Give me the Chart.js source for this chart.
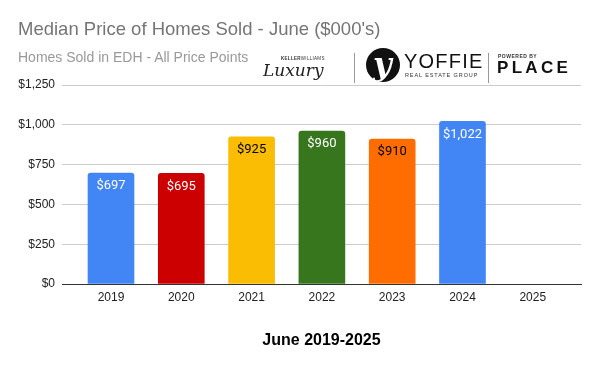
<!DOCTYPE html>
<html><head><meta charset="utf-8">
<script src="https://cdn.jsdelivr.net/npm/chart.js@4"></script>
<style>
html,body{margin:0;padding:0;background:#fff;}
#wrap{position:relative;width:600px;height:371px;overflow:hidden;font-family:Arial,"Liberation Sans",sans-serif;}
canvas{position:absolute;left:0;top:0;}
.t{position:absolute;white-space:nowrap;}
</style></head><body>
<div id="wrap">
<canvas id="c" width="600" height="371"></canvas>
<div class="t" style="left:18px;top:18px;font-size:18.5px;color:#757575;">Median Price of Homes Sold - June ($000's)</div>
<div class="t" style="left:18px;top:49px;font-size:14px;color:#999;">Homes Sold in EDH - All Price Points</div>
<!-- logo -->
<div class="t" style="left:281px;top:56px;font-size:4.5px;font-weight:bold;letter-spacing:0.3px;color:#333;">KELLER<span style="font-weight:normal">WILLIAMS</span></div>
<div class="t" style="left:263px;top:60px;font-size:17px;font-family:'DejaVu Serif',serif;font-style:italic;color:#222;letter-spacing:0px;">Luxury</div>
<div style="position:absolute;left:354px;top:53px;width:1px;height:30px;background:#999;"></div>
<div style="position:absolute;left:366px;top:48px;width:34px;height:34px;border-radius:50%;background:#111;"></div>
<div class="t" style="left:373px;top:45px;font-size:32px;font-family:'DejaVu Serif',serif;font-style:italic;font-weight:bold;color:#fff;">y</div>
<div class="t" style="left:404px;top:50px;font-size:20px;color:#111;letter-spacing:1.2px;">YOFFIE</div>
<div class="t" style="left:405px;top:72px;font-size:5.5px;color:#333;letter-spacing:0.9px;">REAL ESTATE GROUP</div>
<div style="position:absolute;left:488px;top:53px;width:1px;height:30px;background:#999;"></div>
<div class="t" style="left:498px;top:53px;font-size:5px;font-weight:bold;color:#333;letter-spacing:0.5px;">POWERED BY</div>
<div class="t" style="left:497px;top:58px;font-size:17px;font-weight:bold;color:#111;letter-spacing:3.3px;">PLACE</div>
<div class="t" style="left:0;width:643px;text-align:center;top:331px;font-size:16px;font-weight:bold;color:#000;">June 2019-2025</div>
</div>
<script>
const categories = ['2019','2020','2021','2022','2023','2024','2025'];
const values = [697, 695, 925, 960, 910, 1022, null];
const barColors = ['#4285F4','#CC0000','#FBBC04','#38761D','#FF6D01','#4285F4','#4285F4'];
const labelColors = ['#fff','#fff','#000','#fff','#000','#fff','#fff'];
const yTicks = [0, 250, 500, 750, 1000, 1250];

const points = categories.map((c, i) => ({x: i, y: values[i]}));

const dataLabels = {
  id: 'dataLabels',
  afterDatasetsDraw(chart) {
    const ctx = chart.ctx;
    const meta = chart.getDatasetMeta(0);
    ctx.save();
    ctx.font = '13px Roboto';
    ctx.textAlign = 'center';
    ctx.textBaseline = 'middle';
    meta.data.forEach((el, i) => {
      if (values[i] == null) return;
      ctx.fillStyle = labelColors[i];
      ctx.fillText('$' + values[i].toLocaleString('en-US'), el.x, el.y + 13);
    });
    ctx.restore();
  }
};

new Chart(document.getElementById('c'), {
  type: 'bar',
  data: {
    datasets: [{
      data: points,
      backgroundColor: barColors,
      barThickness: 46,
      borderRadius: 3,
      borderSkipped: 'start'
    }]
  },
  options: {
    responsive: false,
    animation: false,
    layout: { padding: { top: 85, right: 19, bottom: 0, left: 0 } },
    plugins: { legend: { display: false }, tooltip: { enabled: false } },
    scales: {
      x: {
        type: 'linear',
        offset: false,
        min: -0.697,
        max: 6.686,
        afterBuildTicks(scale) { scale.ticks = categories.map((c, i) => ({value: i})); },
        afterFit(scale) { scale.height = 87; },
        grid: { display: false, offset: false, drawTicks: false },
        border: { display: true, color: '#333', width: 1 },
        ticks: {
          callback: (v) => categories[v],
          font: { family: 'Arial', size: 12 },
          color: '#222',
          padding: 6,
          maxRotation: 0,
          autoSkip: false
        }
      },
      y: {
        min: 0,
        max: 1250,
        afterBuildTicks(scale) { scale.ticks = yTicks.map(v => ({value: v})); },
        afterFit(scale) { scale.width = 62; },
        grid: { color: '#ccc', drawTicks: false },
        border: { display: false },
        ticks: {
          callback: (v) => '$' + v.toLocaleString('en-US'),
          font: { family: 'Arial', size: 12 },
          color: '#222',
          padding: 7
        }
      }
    }
  },
  plugins: [dataLabels]
});
</script>
</body></html>
